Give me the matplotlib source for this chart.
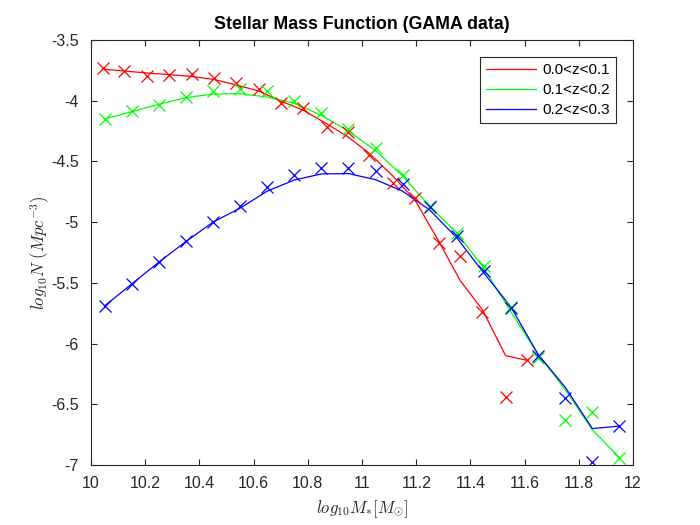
import matplotlib
matplotlib.use("Agg")
import matplotlib.pyplot as plt

plt.rcParams['font.family'] = ['Liberation Sans', 'DejaVu Sans']
plt.rcParams['mathtext.fontset'] = 'cm'

# 0.0<z<0.1 (red), bins are a bit narrower
x_red = [10.043, 10.121, 10.208, 10.289, 10.371, 10.454, 10.535, 10.619, 10.702, 10.781,
         10.870, 10.947, 11.027, 11.116, 11.196, 11.284, 11.362, 11.444, 11.530, 11.609]
pts_red = [-3.733, -3.755, -3.799, -3.791, -3.780, -3.810, -3.854, -3.904, -4.021, -4.063,
           -4.220, -4.258, -4.444, -4.675, -4.801, -5.174, -5.281, -5.742, -6.440, -6.138]
fit_red = [-3.740, -3.755, -3.772, -3.785, -3.800, -3.825, -3.870, -3.920, -4.005, -4.076,
           -4.190, -4.296, -4.433, -4.625, -4.820, -5.160, -5.480, -5.720, -6.100, -6.138]

# 0.1<z<0.2 (green) and 0.2<z<0.3 (blue)
x_bins = [10.05, 10.15, 10.25, 10.35, 10.45, 10.55, 10.65, 10.75, 10.85, 10.95,
          11.05, 11.15, 11.25, 11.35, 11.45, 11.55, 11.65, 11.75, 11.85, 11.95]
pts_green = [-4.151, -4.085, -4.032, -3.967, -3.920, -3.904, -3.920, -4.002, -4.104, -4.233,
             -4.392, -4.612, -4.867, -5.087, -5.361, -5.696, -6.122, -6.632, -6.566, -6.940]
fit_green = [-4.150, -4.090, -4.030, -3.975, -3.945, -3.942, -3.970, -4.020, -4.120, -4.250,
             -4.410, -4.620, -4.870, -5.090, -5.380, -5.740, -6.090, -6.380, -6.710, -6.940]
pts_blue = [-5.690, -5.509, -5.328, -5.153, -4.999, -4.870, -4.713, -4.615, -4.550, -4.557,
            -4.580, -4.689, -4.875, -5.114, -5.402, -5.705, -6.100, -6.451, -6.978, -6.676]
fit_blue = [-5.690, -5.510, -5.330, -5.160, -5.000, -4.885, -4.745, -4.653, -4.603, -4.600,
            -4.650, -4.745, -4.900, -5.130, -5.420, -5.700, -6.090, -6.360, -6.700, -6.680]

labels = ['0.0<z<0.1', '0.1<z<0.2', '0.2<z<0.3']

fig = plt.figure(figsize=(7, 5.25), dpi=100)
ax = fig.add_axes([0.13, 0.1143, 0.7743, 0.8095])

ax.plot(x_red, fit_red, color='r', lw=0.9, label=labels[0])
ax.plot(x_bins, fit_green, color='#00ff00', lw=0.9, label=labels[1])
ax.plot(x_bins, fit_blue, color='b', lw=0.9, label=labels[2])
ax.plot(x_red, pts_red, 'x', color='r', ms=8, mew=0.9)
ax.plot(x_bins, pts_green, 'x', color='#00ff00', ms=8, mew=0.9)
ax.plot(x_bins, pts_blue, 'x', color='b', ms=8, mew=0.9)

ax.set_xlim(10, 12)
ax.set_ylim(-7, -3.5)
ax.set_xticks([10, 10.2, 10.4, 10.6, 10.8, 11, 11.2, 11.4, 11.6, 11.8, 12])
ax.set_xticklabels(['10', '10.2', '10.4', '10.6', '10.8', '11', '11.2', '11.4', '11.6', '11.8', '12'])
ax.set_yticks([-7, -6.5, -6, -5.5, -5, -4.5, -4, -3.5])
ax.set_yticklabels(['-7', '-6.5', '-6', '-5.5', '-5', '-4.5', '-4', '-3.5'])
ax.tick_params(direction='in', top=True, right=True, length=4, width=0.8,
               labelsize=11.5, colors='#262626')
ax.tick_params(axis='x', pad=8)
ax.tick_params(axis='y', pad=9)
for s in ax.spines.values():
    s.set_color('#262626')
    s.set_linewidth(0.8)

ax.set_xlabel(r'$log_{10}M_{*}[M_{\odot}]$', fontsize=12, color='#262626', labelpad=5)
ax.set_ylabel(r'$log_{10}N\ (Mpc^{-3})$', fontsize=12, color='#262626', labelpad=-1)
ax.set_title('Stellar Mass Function (GAMA data)', fontsize=12.8, fontweight='bold', pad=8)

leg = ax.legend(loc='upper right', fontsize=11, frameon=True, fancybox=False,
                edgecolor='#262626', framealpha=1, handlelength=3.3, handletextpad=0.4,
                borderaxespad=1.1, labelspacing=0.4)
leg.get_frame().set_linewidth(0.8)

fig.savefig('out.png', dpi=100)
